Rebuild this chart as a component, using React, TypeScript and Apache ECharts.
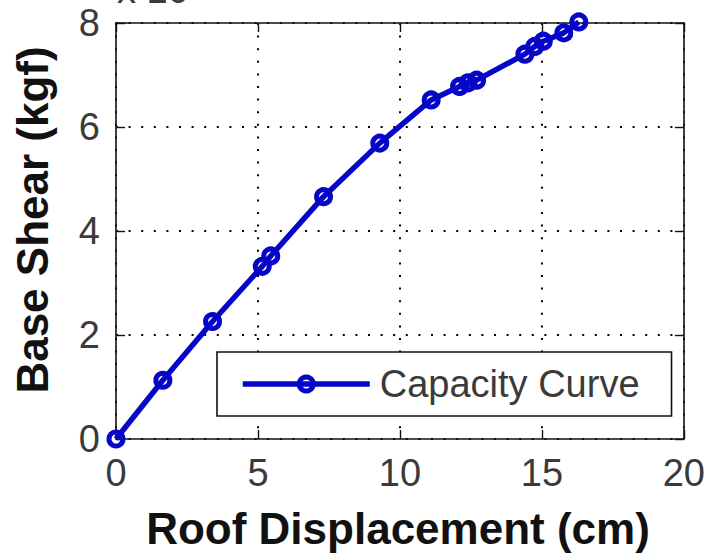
import React, { useEffect, useRef } from "react";
import * as echarts from "echarts";

// Pushover capacity curve: roof displacement (cm) vs base shear (x 10^4 kgf)
const roofDisplacement = [0, 1.65, 3.4, 5.15, 5.45, 7.31, 9.29, 11.1, 12.1, 12.4, 12.7, 14.4, 14.75, 15.05, 15.77, 16.3];
const baseShear = [0, 1.13, 2.26, 3.32, 3.52, 4.66, 5.69, 6.52, 6.78, 6.85, 6.9, 7.4, 7.55, 7.65, 7.81, 8.02];

const xTicks = { min: 0, max: 20, interval: 5 };
const yTicks = { min: 0, max: 8, interval: 2 };

const seriesName = "Capacity Curve";
const xTitle = "Roof Displacement (cm)";
const yTitle = "Base Shear (kgf)";

const BLUE = "#0606c8";
const FONT = "'Liberation Sans', Arial, Helvetica, sans-serif";
const LABEL_GREY = "#3a3a3a";

export default function App() {
  const ref = useRef<HTMLDivElement>(null);

  useEffect(() => {
    if (!ref.current) return;
    const chart = echarts.init(ref.current, undefined, { renderer: "svg" });

    const points = roofDisplacement.map((x, i) => [x, baseShear[i]]);

    const dotted = { show: true, lineStyle: { color: "#000", width: 2, type: [2, 10.6] } };
    const boxLine = { show: true, onZero: false, lineStyle: { color: "#111", width: 1.6 } };
    const innerTick = { show: true, inside: true, length: 9, lineStyle: { color: "#111", width: 1.4 } };
    const tickLabel = { fontSize: 38, color: LABEL_GREY, fontFamily: FONT };

    chart.setOption({
      animation: false,
      backgroundColor: "#fff",
      grid: { left: 116, right: 20, top: 23, bottom: 115, containLabel: false },
      xAxis: [
        {
          type: "value",
          ...xTicks,
          position: "bottom",
          axisLine: boxLine,
          axisTick: innerTick,
          axisLabel: { ...tickLabel, margin: 15 },
          splitLine: dotted,
        },
        {
          type: "value",
          ...xTicks,
          position: "top",
          axisLine: boxLine,
          axisTick: innerTick,
          axisLabel: { show: false },
          splitLine: { show: false },
        },
      ],
      yAxis: [
        {
          type: "value",
          ...yTicks,
          position: "left",
          axisLine: boxLine,
          axisTick: innerTick,
          axisLabel: { ...tickLabel, margin: 16 },
          splitLine: dotted,
        },
        {
          type: "value",
          ...yTicks,
          position: "right",
          axisLine: boxLine,
          axisTick: innerTick,
          axisLabel: { show: false },
          splitLine: { show: false },
        },
      ],
      legend: {
        left: 217,
        top: 352,
        padding: [13, 32, 13, 23],
        itemWidth: 127,
        itemHeight: 17.5,
        itemGap: 0,
        borderColor: "#111",
        borderWidth: 1.6,
        backgroundColor: "#fff",
        selectedMode: false,
        lineStyle: { width: 5.5 },
        itemStyle: { borderWidth: 5 },
        textStyle: { fontSize: 38, color: LABEL_GREY, fontFamily: FONT, padding: [0, 0, 0, 5] },
        data: [seriesName],
      },
      series: [
        {
          name: seriesName,
          type: "line",
          data: points,
          clip: false,
          symbol: "circle",
          symbolSize: 14,
          showSymbol: true,
          lineStyle: { color: BLUE, width: 5.5 },
          itemStyle: { color: "rgba(0,0,0,0)", borderColor: BLUE, borderWidth: 5 },
          z: 5,
        },
      ],
      graphic: [
        {
          type: "text",
          x: 117,
          y: -10,
          style: {
            text: "x 10{s|4}",
            fontSize: 38,
            fill: LABEL_GREY,
            fontFamily: FONT,
            verticalAlign: "middle",
            rich: { s: { fontSize: 26, verticalAlign: "top", padding: [0, 0, 20, 0] } },
          },
        },
        {
          type: "text",
          x: 398,
          y: 528,
          style: {
            text: xTitle,
            fontSize: 44,
            fontWeight: "bold",
            fill: "#111",
            fontFamily: FONT,
            align: "center",
            verticalAlign: "middle",
          },
        },
        {
          type: "text",
          x: 32,
          y: 220,
          rotation: Math.PI / 2,
          style: {
            text: yTitle,
            fontSize: 44,
            fontWeight: "bold",
            fill: "#111",
            fontFamily: FONT,
            align: "center",
            verticalAlign: "middle",
          },
        },
      ],
    });

    return () => chart.dispose();
  }, []);

  return (
    <div
      ref={ref}
      style={{ position: "fixed", left: 0, top: 0, width: 708, height: 554, background: "#fff" }}
    />
  );
}
